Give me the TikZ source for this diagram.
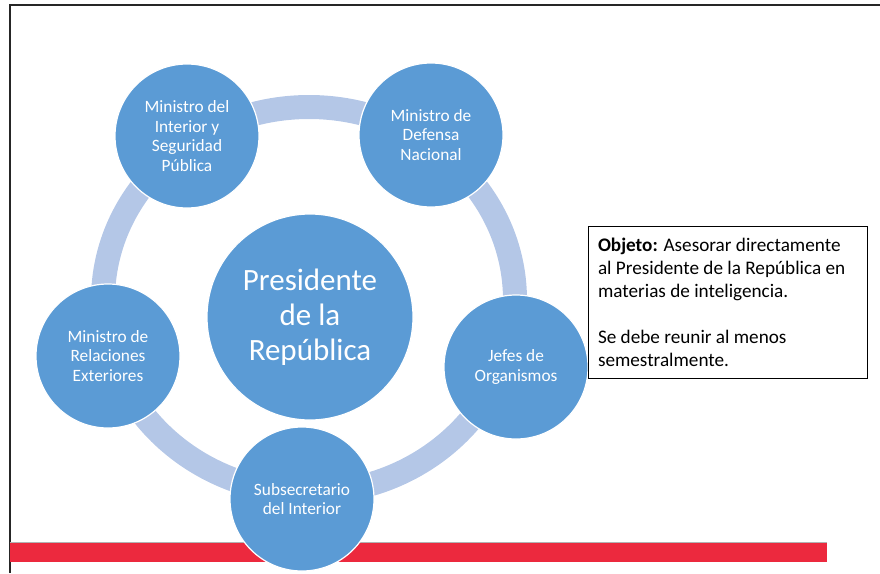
\documentclass[tikz,border=0pt]{standalone}
\usepackage{fontspec}
\setmainfont{Carlito}
\usepackage{xcolor}
\usepackage{tikz}
\usetikzlibrary{calc}

\definecolor{circblue}{HTML}{5B9BD5}
\definecolor{ringblue}{HTML}{B4C7E7}
\definecolor{barred}{HTML}{EC293E}

\begin{document}
\begin{tikzpicture}[x=1pt, y=-1pt,
    sat/.style={circle, fill=circblue, draw=white, line width=1.2pt, inner sep=0pt,
      minimum size=144pt, text=white, align=center, font=\fontsize{17.3}{19.6}\selectfont},
    pres/.style={sat, minimum size=206pt, font=\fontsize{31}{35}\selectfont}]
    \useasboundingbox (0, 0) rectangle (880, 573);
    % frame and red bar
    \draw[line width=1.6pt, black!85] (10, 573) -- (10, 5) -- (880, 5);
    \fill[barred] (10, 542) rectangle (827, 562);
    \draw[black!30, line width=0.8pt] (10, 542) -- (827, 542);
    % ring behind the circles
    \coordinate (hub) at (309, 300);
    \draw[ringblue, line width=24pt] (hub) ellipse [x radius=206, y radius=193];
    \node[pres] (presidente) at (310, 317) {Presidente\\de la\\República};
    \node[sat] (interior) at (187, 136) {Ministro del\\Interior y\\Seguridad\\Pública};
    \node[sat] (defensa) at (431, 135) {Ministro de\\Defensa\\Nacional};
    \node[sat] (jefes) at (516, 367) {Jefes de\\Organismos};
    \node[sat] (subsec) at (302, 499) {Subsecretario\\del Interior};
    \node[sat] (rree) at (108, 356) {Ministro de\\Relaciones\\Exteriores};
    % text box
    \node[draw=black, line width=1pt, fill=white, minimum width=279pt, minimum height=152pt,
      text width=259pt, inner xsep=10pt, align=flush left, font=\fontsize{19.2}{23}\selectfont]
      (objeto) at (727.5, 302) {\textbf{Objeto:} Asesorar directamente\\al Presidente de la República en\\materias de inteligencia.\\[23pt]
      Se debe reunir al menos\\semestralmente.};
  \end{tikzpicture}
\end{document}
